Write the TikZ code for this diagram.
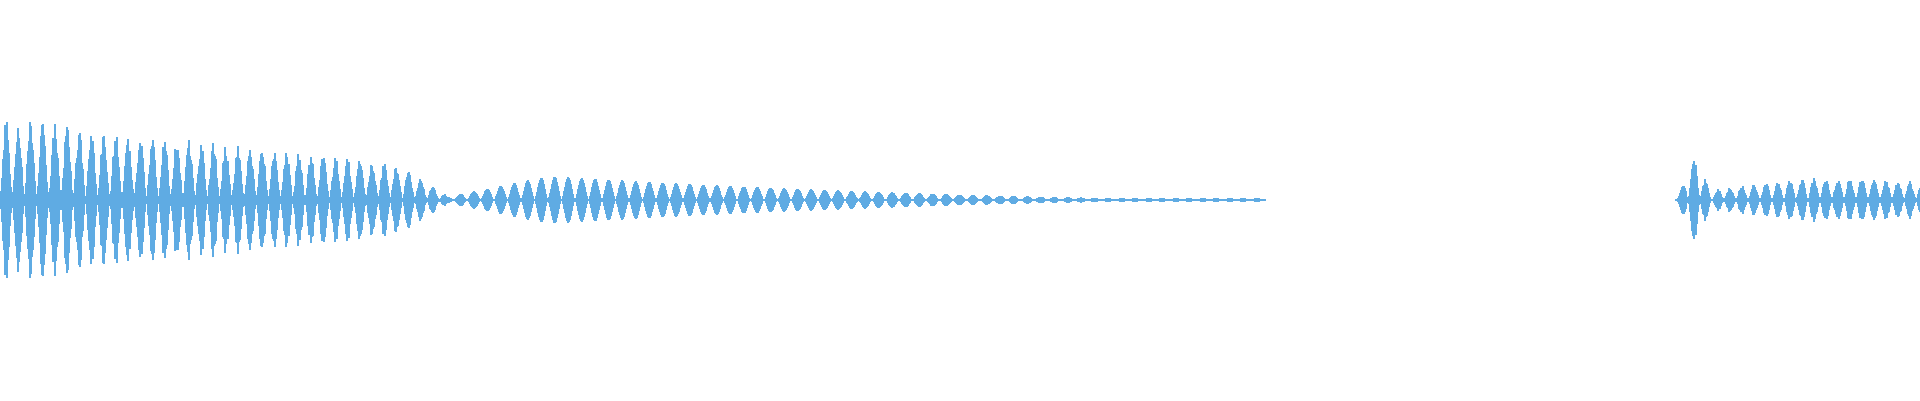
\documentclass[tikz,border=0pt]{standalone}
\definecolor{wave}{HTML}{5FABE3}
\tikzset{bar/.style={wave,line width=1.1pt}}
\begin{document}
\begin{tikzpicture}[x=1pt,y=1pt]
	\useasboundingbox (0,0) rectangle (1920,400);
	\pgfmathsetseed{7}
	% first burst train
	\foreach \i in {0,...,450}{
		\pgfmathsetmacro\env{\i<400 ? 72-0.1*\i : (450-\i)/50*32+2}
		\pgfmathsetmacro\s{abs(sin(\i/12.2*180))}
		\pgfmathsetmacro\a{max(1.5,\env*\s*(0.4+0.6*\s)*(0.85+0.3*rnd))}
		\draw[bar] (\i,200-\a) -- (\i,200+\a);
	}
	% second burst train
	\foreach \i in {440,...,1265}{
		\pgfmathsetmacro\up{2+(\i-440)/5}
		\pgfmathsetmacro\q{1-(\i-580)/760}
		\pgfmathsetmacro\env{min(\up,max(2,22*\q*\q))}
		\pgfmathsetmacro\s{abs(sin((\i-440)/13.5*180))}
		\pgfmathsetmacro\a{max(0.6,\env*\s*(0.3+0.7*\s))}
		\draw[bar] (\i,200-\a) -- (\i,200+\a);
	}
	% third burst train
	\foreach \i in {1676,...,1920}{
		\pgfmathsetmacro\env{max(42-2.2*abs(\i-1695),10+10*sin((\i-1715)/250*180))}
		\pgfmathsetmacro\s{abs(sin((\i-1676)/12*180))}
		\pgfmathsetmacro\a{max(1.2,\env*\s*(0.4+0.6*\s)*(0.85+0.3*rnd))}
		\draw[bar] (\i,200-\a) -- (\i,200+\a);
	}
\end{tikzpicture}
\end{document}
